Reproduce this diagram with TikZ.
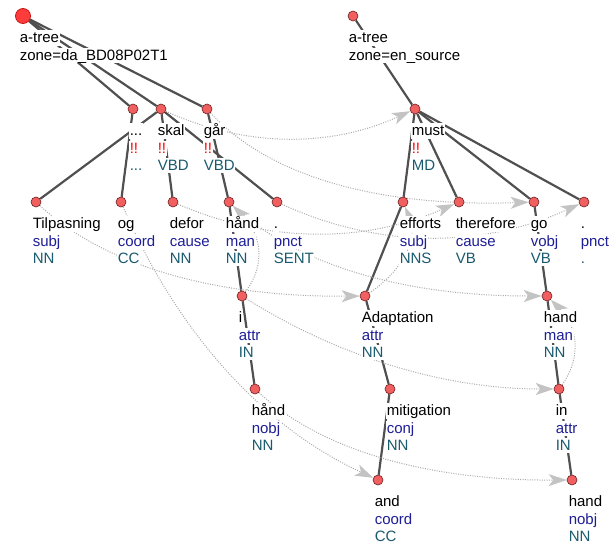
\documentclass[tikz,border=0pt]{standalone}
\usepackage{fontspec}
\setmainfont{Liberation Sans}
\usetikzlibrary{calc,arrows.meta}
\definecolor{nodefill}{RGB}{240,96,96}
\definecolor{nodeline}{RGB}{110,30,30}
\definecolor{rootfill}{RGB}{255,60,60}
\definecolor{rootline}{RGB}{200,20,20}
\definecolor{edgecol}{RGB}{80,80,80}
\definecolor{alcol}{RGB}{170,170,170}
\definecolor{ahcol}{RGB}{195,195,195}
\definecolor{funccol}{RGB}{30,30,150}
\definecolor{poscol}{RGB}{25,90,110}
\definecolor{markcol}{RGB}{255,0,0}
\pgfdeclarelayer{edges}\pgfdeclarelayer{arcs}\pgfdeclarelayer{labels}
\pgfsetlayers{edges,arcs,labels,main}
\tikzset{
 tn/.style={circle, fill=nodefill, draw=nodeline, line width=0.6pt, minimum size=10pt, inner sep=0pt},
 rootn/.style={circle, fill=rootfill, draw=rootline, line width=0.8pt, minimum size=15pt, inner sep=0pt},
 lbl/.style={fill=white, inner sep=0.6pt, anchor=base west, text height=11.5pt, text depth=2.6pt, font=\fontsize{15}{17}\selectfont},
 tedge/.style={draw=edgecol, line width=2.2pt},
 alarrow/.style={draw=alcol, line width=1pt, dash pattern=on 1pt off 1.4pt, -{Stealth[length=18pt,width=12pt,inset=4.5pt,color=ahcol]}},
}
% word node labels: name, x, y, word, line2, col2, line3, col3
\newcommand\tword[8]{%
  \node[lbl] (#1-w) at (#2-4,#3+26.5) {#4};
  \node[lbl,text=#6] (#1-f) at (#2-4,#3+44) {#5};
  \node[lbl,text=#8] (#1-p) at (#2-4,#3+61) {#7};
}
\newcommand\alarc[3]{\draw[alarrow] (#1) .. controls ($(#1)!0.6667!(#2)$) and ($(#3)!0.6667!(#2)$) .. (#3);}
\begin{document}
\begin{tikzpicture}[x=1pt,y=-1pt]
\useasboundingbox (0,0) rectangle (613,544);
% ---- nodes (main layer, on top)
\node[rootn] (lroot) at (23,16) {};
\node[tn] (ldots) at (133,109) {};
\node[tn] (skal) at (161,109) {};
\node[tn] (gaar) at (207,109) {};
\node[tn] (tilp) at (36,202) {};
\node[tn] (og) at (121,202) {};
\node[tn] (defor) at (173,202) {};
\node[tn] (haand) at (229,202) {};
\node[tn] (lpnct) at (277,202) {};
\node[tn] (li) at (242,296) {};
\node[tn] (haand2) at (255,389) {};
\node[tn] (rroot) at (353,16) {};
\node[tn] (must) at (415,109) {};
\node[tn] (efforts) at (403,202) {};
\node[tn] (therefore) at (459,202) {};
\node[tn] (go) at (534,202) {};
\node[tn] (rpnct) at (584,202) {};
\node[tn] (adapt) at (365,296) {};
\node[tn] (hand) at (547,296) {};
\node[tn] (mitig) at (390,389) {};
\node[tn] (rin) at (559,389) {};
\node[tn] (and) at (378,480) {};
\node[tn] (hand2) at (572,480) {};
% ---- labels
\begin{pgfonlayer}{labels}
\node[lbl] (lroot-a) at (19,42.5) {a-tree};
\node[lbl] (lroot-z) at (19,60) {zone=da\_BD08P02T1};
\node[lbl] (rroot-a) at (348,42.5) {a-tree};
\node[lbl] (rroot-z) at (348,60) {zone=en\_source};
\tword{ldots}{133}{109}{...}{!!}{markcol}{...}{poscol}
\tword{skal}{161}{109}{skal}{!!}{markcol}{VBD}{poscol}
\tword{gaar}{207}{109}{går}{!!}{markcol}{VBD}{poscol}
\tword{tilp}{36}{202}{Tilpasning}{subj}{funccol}{NN}{poscol}
\tword{og}{121}{202}{og}{coord}{funccol}{CC}{poscol}
\tword{defor}{173}{202}{defor}{cause}{funccol}{NN}{poscol}
\tword{haand}{229}{202}{hånd}{man}{funccol}{NN}{poscol}
\tword{lpnct}{277}{202}{.}{pnct}{funccol}{SENT}{poscol}
\tword{li}{242}{296}{i}{attr}{funccol}{IN}{poscol}
\tword{haand2}{255}{389}{hånd}{nobj}{funccol}{NN}{poscol}
\tword{must}{415}{109}{must}{!!}{markcol}{MD}{poscol}
\tword{efforts}{403}{202}{efforts}{subj}{funccol}{NNS}{poscol}
\tword{therefore}{459}{202}{therefore}{cause}{funccol}{VB}{poscol}
\tword{go}{534}{202}{go}{vobj}{funccol}{VB}{poscol}
\tword{rpnct}{584}{202}{.}{pnct}{funccol}{.}{poscol}
\tword{adapt}{365}{296}{Adaptation}{attr}{funccol}{NN}{poscol}
\tword{hand}{547}{296}{hand}{man}{funccol}{NN}{poscol}
\tword{mitig}{390}{389}{mitigation}{conj}{funccol}{NN}{poscol}
\tword{rin}{559}{389}{in}{attr}{funccol}{IN}{poscol}
\tword{and}{378}{480}{and}{coord}{funccol}{CC}{poscol}
\tword{hand2}{572}{480}{hand}{nobj}{funccol}{NN}{poscol}
\end{pgfonlayer}
% ---- tree edges
\begin{pgfonlayer}{edges}
\draw[tedge] (lroot) -- (ldots);
\draw[tedge] (lroot) -- (skal);
\draw[tedge] (lroot) -- (gaar);
\draw[tedge] (ldots) -- (og);
\draw[tedge] (skal) -- (tilp);
\draw[tedge] (skal) -- (defor);
\draw[tedge] (skal) -- (lpnct);
\draw[tedge] (gaar) -- (haand);
\draw[tedge] (haand) -- (li);
\draw[tedge] (li) -- (haand2);
\draw[tedge] (rroot) -- (must);
\draw[tedge] (must) -- (efforts);
\draw[tedge] (must) -- (therefore);
\draw[tedge] (must) -- (go);
\draw[tedge] (must) -- (rpnct);
\draw[tedge] (efforts) -- (adapt);
\draw[tedge] (adapt) -- (mitig);
\draw[tedge] (mitig) -- (and);
\draw[tedge] (go) -- (hand);
\draw[tedge] (hand) -- (rin);
\draw[tedge] (rin) -- (hand2);
\end{pgfonlayer}
% ---- alignment and other dotted arcs
\begin{pgfonlayer}{arcs}
\alarc{skal}{288,167}{must}
\alarc{gaar}{300,210}{go}
\alarc{tilp}{140,298}{adapt}
\alarc{og}{207,401}{and}
\alarc{defor}{316,264}{therefore}
\alarc{haand}{330,296}{hand}
\alarc{lpnct}{430,272}{rpnct}
\alarc{li}{390,389}{rin}
\alarc{haand2}{355,481}{hand2}
\alarc{li}{278,250}{haand}
\alarc{rin}{593,342}{hand}
\alarc{adapt}{425,255}{efforts}
\end{pgfonlayer}
\end{tikzpicture}
\end{document}
